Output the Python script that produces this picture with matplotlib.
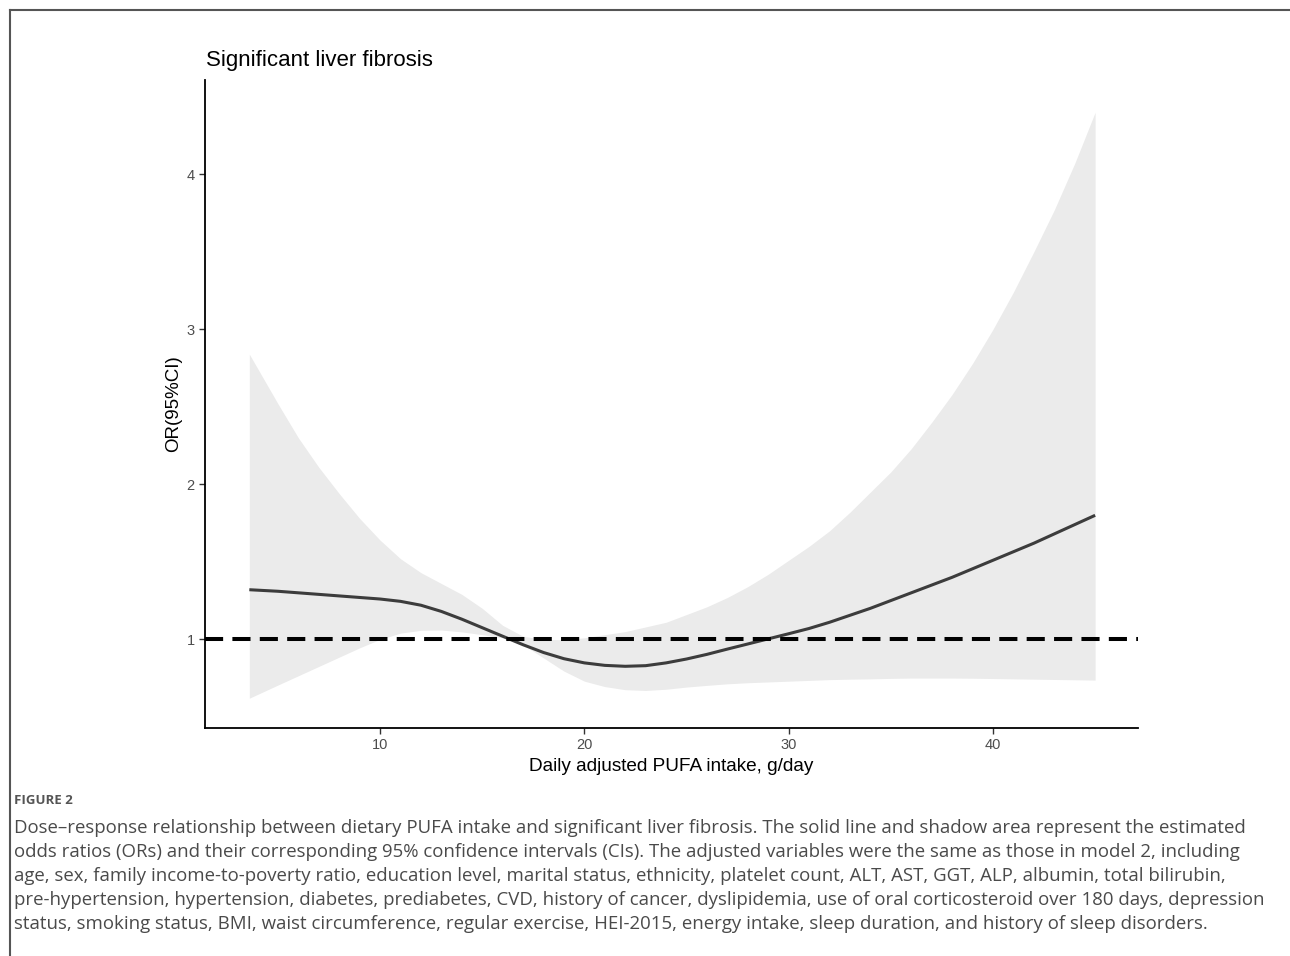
import matplotlib.pyplot as plt
from matplotlib.lines import Line2D

# PUFA intake (g/day) and OR with 95% CI
intake = [3.6, 5, 6, 7, 8, 9, 10, 11, 12, 13, 14, 15, 16, 17, 18, 19, 20, 21, 22, 23, 24,
          25, 26, 27, 28, 29, 30, 31, 32, 33, 34, 35, 36, 37, 38, 39, 40, 41, 42, 43, 44, 45]
odds = [1.32, 1.31, 1.30, 1.29, 1.28, 1.27, 1.26, 1.245, 1.22, 1.18, 1.13, 1.075, 1.02, 0.965,
        0.915, 0.875, 0.848, 0.832, 0.826, 0.83, 0.848, 0.873, 0.903, 0.937, 0.97, 1.003, 1.036,
        1.07, 1.11, 1.155, 1.20, 1.25, 1.30, 1.35, 1.40, 1.455, 1.51, 1.565, 1.62, 1.68, 1.74, 1.80]
ci_upper = [2.84, 2.52, 2.30, 2.11, 1.94, 1.78, 1.64, 1.52, 1.43, 1.36, 1.29, 1.20, 1.09, 1.02,
            1.00, 0.997, 1.01, 1.03, 1.05, 1.08, 1.11, 1.16, 1.21, 1.27, 1.34, 1.42, 1.51,
            1.60, 1.70, 1.82, 1.95, 2.08, 2.23, 2.40, 2.58, 2.78, 3.00, 3.24, 3.50, 3.77, 4.07, 4.40]
ci_lower = [0.62, 0.705, 0.765, 0.825, 0.885, 0.945, 1.0, 1.04, 1.058, 1.06, 1.048, 1.03, 1.01,
            0.965, 0.88, 0.795, 0.73, 0.695, 0.675, 0.67, 0.678, 0.692, 0.703, 0.713, 0.72, 0.725,
            0.73, 0.735, 0.74, 0.743, 0.745, 0.748, 0.75, 0.75, 0.75, 0.749, 0.747, 0.745, 0.743,
            0.741, 0.739, 0.737]

x_ticks = [10, 20, 30, 40]
y_ticks = [1, 2, 3, 4]

caption_lines = [
    "Dose\u2013response relationship between dietary PUFA intake and significant liver fibrosis. The solid line and shadow area represent the estimated",
    "odds ratios (ORs) and their corresponding 95% confidence intervals (CIs). The adjusted variables were the same as those in model 2, including",
    "age, sex, family income-to-poverty ratio, education level, marital status, ethnicity, platelet count, ALT, AST, GGT, ALP, albumin, total bilirubin,",
    "pre-hypertension, hypertension, diabetes, prediabetes, CVD, history of cancer, dyslipidemia, use of oral corticosteroid over 180 days, depression",
    "status, smoking status, BMI, waist circumference, regular exercise, HEI-2015, energy intake, sleep duration, and history of sleep disorders.",
]

plt.rcParams['font.family'] = ['Liberation Sans', 'DejaVu Sans']

fig = plt.figure(figsize=(12.9, 9.56), dpi=100)
ax = fig.add_axes([0.1589, 0.2385, 0.8822 - 0.1589, 0.9163 - 0.2385])

ax.fill_between(intake, ci_lower, ci_upper, color='#ebebeb', linewidth=0)
ax.plot(intake, odds, color='#3c3c3c', linewidth=2.2, solid_capstyle='butt')
ax.axhline(1, color='black', linewidth=2.9, linestyle=(0, (4.5, 2.3)))

ax.set_xlim(1.43, 47.1)
ax.set_ylim(0.428, 4.608)
ax.set_xticks(x_ticks)
ax.set_yticks(y_ticks)
ax.tick_params(colors='#333333', labelcolor='#4d4d4d', labelsize=10.5, length=4, width=1)

for side in ['top', 'right']:
    ax.spines[side].set_visible(False)
for side in ['left', 'bottom']:
    ax.spines[side].set_linewidth(1.3)

ax.set_xlabel('Daily adjusted PUFA intake, g/day', fontsize=13.7, labelpad=4)
ax.set_ylabel('OR(95%CI)', fontsize=13.5, labelpad=3)
ax.set_title('Significant liver fibrosis', fontsize=16, loc='left', pad=10, x=0.001)

# page border (left and top edges)
fig.add_artist(Line2D([10 / 1290, 10 / 1290], [0, 1 - 10 / 956], color='#555555', linewidth=1.5))
fig.add_artist(Line2D([10 / 1290, 1], [1 - 10 / 956, 1 - 10 / 956], color='#555555', linewidth=1.5))

fig.text(14 / 1290, 1 - 801 / 956, 'FIGURE 2', fontsize=9.5, fontweight='bold', color='#555555',
         family=['Open Sans', 'DejaVu Sans'], va='center')
for i, line in enumerate(caption_lines):
    fig.text(14 / 1290, 1 - (828 + 24 * i) / 956, line, fontsize=13.4, color='#4a4a4a',
             family=['Open Sans', 'DejaVu Sans'], va='center')

fig.savefig('out.png', dpi=100)
